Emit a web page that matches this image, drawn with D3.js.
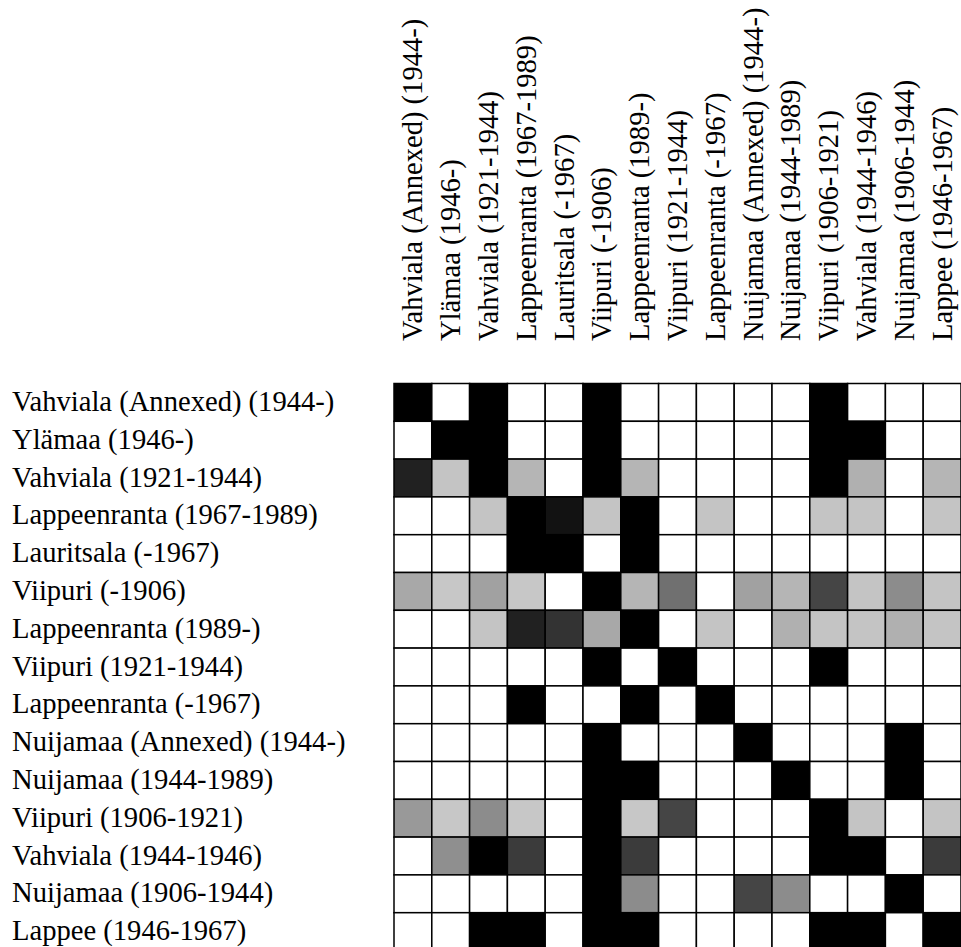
<!doctype html>
<html>
    <head>
        <meta charset="utf-8">
        <title>Matrix</title>
        <script src="https://d3js.org/d3.v7.min.js"></script>
        <style>
            body { margin: 0; background: #fff; }
        </style>
    </head>

    <body>
        <div id="my_dataviz"></div>
        <script>
            // labels (same order for rows and columns)
            var labels = [
                "Vahviala (Annexed) (1944-)",
                "Ylämaa (1946-)",
                "Vahviala (1921-1944)",
                "Lappeenranta (1967-1989)",
                "Lauritsala (-1967)",
                "Viipuri (-1906)",
                "Lappeenranta (1989-)",
                "Viipuri (1921-1944)",
                "Lappeenranta (-1967)",
                "Nuijamaa (Annexed) (1944-)",
                "Nuijamaa (1944-1989)",
                "Viipuri (1906-1921)",
                "Vahviala (1944-1946)",
                "Nuijamaa (1906-1944)",
                "Lappee (1946-1967)"
            ];

            // cell darkness, 0 = white, 1 = black, one array per row
            var r0  = [1,0,1,0,0,1,0,0,0,0,0,1,0,0,0];
            var r1  = [0,1,1,0,0,1,0,0,0,0,0,1,1,0,0];
            var r2  = [0.87,0.23,1,0.29,0,1,0.29,0,0,0,0,1,0.31,0,0.29];
            var r3  = [0,0,0.23,1,0.93,0.23,1,0,0.23,0,0,0.23,0.23,0,0.23];
            var r4  = [0,0,0,1,1,0,1,0,0,0,0,0,0,0,0];
            var r5  = [0.34,0.22,0.37,0.22,0,1,0.29,0.56,0,0.37,0.29,0.73,0.23,0.45,0.23];
            var r6  = [0,0,0.23,0.87,0.8,0.34,1,0,0.23,0,0.31,0.23,0.23,0.31,0.23];
            var r7  = [0,0,0,0,0,1,0,1,0,0,0,1,0,0,0];
            var r8  = [0,0,0,1,0,0,1,0,1,0,0,0,0,0,0];
            var r9  = [0,0,0,0,0,1,0,0,0,1,0,0,0,1,0];
            var r10 = [0,0,0,0,0,1,1,0,0,0,1,0,0,1,0];
            var r11 = [0.4,0.22,0.45,0.22,0,1,0.22,0.73,0,0,0,1,0.23,0,0.23];
            var r12 = [0,0.44,1,0.77,0,1,0.77,0,0,0,0,1,1,0,0.77];
            var r13 = [0,0,0,0,0,1,0.45,0,0,0.73,0.45,0,0,1,0];
            var r14 = [0,0,1,1,0,1,1,0,0,0,0,1,1,0,1];
            var rows = [r0,r1,r2,r3,r4,r5,r6,r7,r8,r9,r10,r11,r12,r13,r14];

            var width = 961, height = 947;
            var step = 37.8;
            var gridLeft = 394, gridTop = 383.5;

            var svg = d3.select("#my_dataviz")
            .append("svg")
                .attr("width", width)
                .attr("height", height);

            var x = d3.scaleBand()
                .domain(labels)
                .range([gridLeft, gridLeft + step * labels.length]);
            var y = d3.scaleBand()
                .domain(labels)
                .range([gridTop, gridTop + step * labels.length]);

            var color = d3.scaleLinear()
                .domain([0, 1])
                .range(["#ffffff", "#000000"]);

            // flatten into cells
            var cells = [];
            rows.forEach(function(row, i) {
                row.forEach(function(v, j) {
                    cells.push({row: labels[i], col: labels[j], value: v});
                });
            });

            svg.append("g")
                .selectAll("rect")
                .data(cells)
                .enter()
                .append("rect")
                    .attr("x", function(d) { return x(d.col) })
                    .attr("y", function(d) { return y(d.row) })
                    .attr("width", x.bandwidth())
                    .attr("height", y.bandwidth())
                    .attr("fill", function(d) { return color(d.value) })
                    .attr("stroke", "#000")
                    .attr("stroke-width", 1.5);

            // row labels
            svg.append("g")
                .selectAll("text")
                .data(labels)
                .enter()
                .append("text")
                    .attr("x", 12)
                    .attr("y", function(d) { return y(d) + y.bandwidth() / 2 })
                    .attr("dy", "0.3em")
                    .style("font-family", "'Liberation Serif', 'Times New Roman', serif")
                    .style("font-size", "28.6px")
                    .text(function(d) { return d });

            // column labels
            svg.append("g")
                .selectAll("text")
                .data(labels)
                .enter()
                .append("text")
                    .attr("transform", function(d) {
                        return "translate(" + (x(d) + x.bandwidth() / 2) + ",341) rotate(-90)";
                    })
                    .attr("dy", "0.33em")
                    .style("font-family", "'Liberation Serif', 'Times New Roman', serif")
                    .style("font-size", "28.6px")
                    .text(function(d) { return d });
        </script>
    </body>
</html>
